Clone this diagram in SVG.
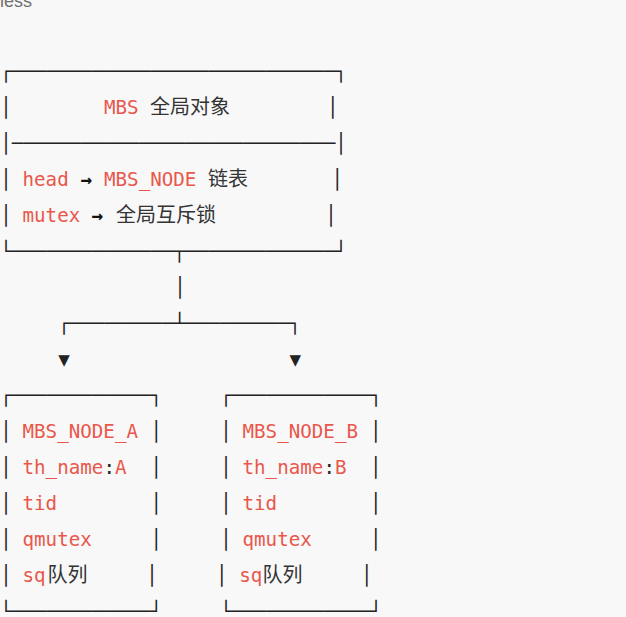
<svg xmlns="http://www.w3.org/2000/svg" width="626" height="617" viewBox="0 0 626 617">
<style>
text{font-family:"DejaVu Sans Mono","Liberation Mono",monospace;font-size:19.2px;fill:#333}
.b{fill:#222}
.r{fill:#e9574b}
.a{fill:#111;font-weight:bold}
.c{font-family:"Noto Sans CJK SC","Noto Sans CJK JP",sans-serif;font-size:20px;fill:#333}
.lang{font-family:"Liberation Sans","Noto Sans",sans-serif;font-size:18px;fill:#707070}
</style>
<rect width="626" height="617" fill="#f8f8f8"/>
<text class="lang" x="0" y="7">less</text>
<g id="mbs">
<text class="b" x="0.22" y="78">┌────────────────────────────┐</text>
<text y="114"><tspan class="b" x="0.3">│</tspan><tspan class="r" x="104">MBS</tspan><tspan class="c" x="150">全局对象</tspan><tspan class="b" x="327">│</tspan></text>
<text class="b" x="0.3" y="150">│────────────────────────────│</text>
<text y="186"><tspan class="b" x="0.3">│</tspan><tspan class="r" x="22.5">head</tspan><tspan class="a" x="80.5">→</tspan><tspan class="r" x="104">MBS_NODE</tspan><tspan class="c" x="208">链表</tspan><tspan class="b" x="331.5">│</tspan></text>
<text y="222"><tspan class="b" x="0.3">│</tspan><tspan class="r" x="22.5">mutex</tspan><tspan class="a" x="91.5">→</tspan><tspan class="c" x="116">全局互斥锁</tspan><tspan class="b" x="325.2">│</tspan></text>
<text class="b" x="0.22" y="258">└──────────────┬─────────────┘</text>
</g>
<g id="connectors">
<text class="b" x="174.2" y="294">│</text>
<text class="b" x="58.2" y="330">┌─────────┴─────────┐</text>
<text class="b" x="58.2" y="366">▼</text>
<text class="b" x="289.4" y="366">▼</text>
</g>
<g id="node_a">
<text class="b" x="0.22" y="402">┌────────────┐</text>
<text y="438"><tspan class="b" x="0.3">│</tspan><tspan class="r" x="22.5">MBS_NODE_A</tspan><tspan class="b" x="150.5">│</tspan></text>
<text y="474"><tspan class="b" x="0.3">│</tspan><tspan class="r" x="22.5">th_name</tspan><tspan class="b">:</tspan><tspan class="r">A</tspan><tspan class="b" x="150.5">│</tspan></text>
<text y="510"><tspan class="b" x="0.3">│</tspan><tspan class="r" x="22.5">tid</tspan><tspan class="b" x="150.5">│</tspan></text>
<text y="546"><tspan class="b" x="0.3">│</tspan><tspan class="r" x="22.5">qmutex</tspan><tspan class="b" x="150.5">│</tspan></text>
<text y="582"><tspan class="b" x="0.3">│</tspan><tspan class="r" x="22.5">sq</tspan><tspan class="c" x="47.5">队列</tspan><tspan class="b" x="146.2">│</tspan></text>
<text class="b" x="0.22" y="618">└────────────┘</text>
</g>
<g id="node_b">
<text class="b" x="220.2" y="402">┌────────────┐</text>
<text y="438"><tspan class="b" x="220.3">│</tspan><tspan class="r" x="242.5">MBS_NODE_B</tspan><tspan class="b" x="370">│</tspan></text>
<text y="474"><tspan class="b" x="220.3">│</tspan><tspan class="r" x="242.5">th_name</tspan><tspan class="b">:</tspan><tspan class="r">B</tspan><tspan class="b" x="370">│</tspan></text>
<text y="510"><tspan class="b" x="220.3">│</tspan><tspan class="r" x="242.5">tid</tspan><tspan class="b" x="370">│</tspan></text>
<text y="546"><tspan class="b" x="220.3">│</tspan><tspan class="r" x="242.5">qmutex</tspan><tspan class="b" x="370">│</tspan></text>
<text y="582"><tspan class="b" x="215.9">│</tspan><tspan class="r" x="239.2">sq</tspan><tspan class="c" x="262.5">队列</tspan><tspan class="b" x="360.9">│</tspan></text>
<text class="b" x="220.2" y="618">└────────────┘</text>
</g>
</svg>
